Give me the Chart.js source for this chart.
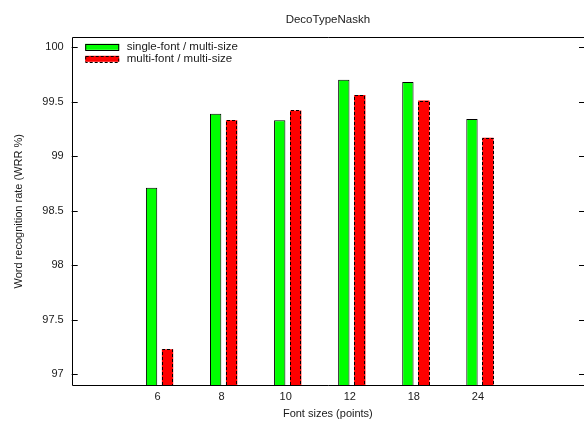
<!DOCTYPE html>
<html>
<head>
<meta charset="utf-8">
<script src="https://cdn.jsdelivr.net/npm/chart.js@4.4.1/dist/chart.umd.min.js"></script>
<style>
html,body{margin:0;padding:0;background:#fff;}
#wrap{width:584px;height:421px;}
</style>
</head>
<body>
<div id="wrap"><canvas id="c" width="584" height="421"></canvas></div>
<script>
// ---- data ----
const categories = ['6', '8', '10', '12', '18', '24'];
const singleFont = [98.71, 99.39, 99.33, 99.70, 99.68, 99.34];
const multiFont  = [97.23, 99.33, 99.42, 99.56, 99.51, 99.17];
const seriesNames = ['single-font / multi-size', 'multi-font / multi-size'];
const yTickValues = [97, 97.5, 98, 98.5, 99, 99.5, 100];

const FONT = 'Liberation Sans, Arial, Helvetica, sans-serif';
const TXT = '#1a1a1a';

const toPoints = arr => arr.map((v, i) => ({x: i, y: v}));

// frame, inward ticks, dashed borders, legend
const gnuplotStyle = {
  id: 'gnuplotStyle',
  afterDatasetsDraw(chart) {
    const ctx = chart.ctx;
    const a = chart.chartArea;
    const y = chart.scales.y;
    const W = chart.width;
    ctx.save();
    // dashed border for second series
    const meta = chart.getDatasetMeta(1);
    ctx.strokeStyle = '#000';
    ctx.lineWidth = 1;
    ctx.setLineDash([3, 2]);
    meta.data.forEach(el => {
      const p = el.getProps(['x', 'y', 'base', 'width'], true);
      const l = Math.round(p.x - p.width / 2) + 0.5;
      const r = Math.round(p.x + p.width / 2) - 0.5;
      const t = Math.round(p.y) + 0.5;
      const b = Math.min(Math.round(p.base), Math.round(a.bottom));
      ctx.beginPath();
      ctx.moveTo(l, b); ctx.lineTo(l, t); ctx.lineTo(r, t); ctx.lineTo(r, b);
      ctx.stroke();
    });
    ctx.setLineDash([]);
    // frame: top, left, bottom (right edge lies beyond the picture)
    ctx.strokeStyle = '#000';
    ctx.lineWidth = 1;
    const L = Math.round(a.left) + 0.5, T = Math.round(a.top) + 0.5, B = Math.round(a.bottom) + 0.5;
    ctx.beginPath();
    ctx.moveTo(W, T); ctx.lineTo(L, T); ctx.lineTo(L, B); ctx.lineTo(W, B);
    ctx.stroke();
    // inward ticks on left and right
    y.ticks.forEach(t => {
      const py = Math.round(y.getPixelForValue(t.value)) + 0.5;
      ctx.beginPath();
      ctx.moveTo(a.left, py); ctx.lineTo(a.left + 6, py);
      ctx.moveTo(W, py); ctx.lineTo(W - 5, py);
      ctx.stroke();
    });
    // legend
    const ds = chart.data.datasets;
    const lx = a.left + 13.5, bw = 34, bh = 6;
    const rows = [a.top + 9.5, a.top + 21.5];
    ctx.font = '11.5px ' + FONT;
    ctx.textBaseline = 'middle';
    ctx.textAlign = 'left';
    ds.forEach((d, i) => {
      const cy = rows[i];
      ctx.fillStyle = d.backgroundColor;
      ctx.fillRect(lx, cy - bh / 2, bw, bh);
      ctx.strokeStyle = '#000';
      ctx.setLineDash(i === 1 ? [3, 2] : []);
      ctx.strokeRect(lx + 0.5, Math.round(cy - bh / 2) + 0.5, bw - 1, bh);
      ctx.setLineDash([]);
      ctx.fillStyle = TXT;
      ctx.fillText(d.label, lx + bw + 7.5, cy);
    });
    ctx.restore();
  }
};

new Chart(document.getElementById('c'), {
  type: 'bar',
  data: {
    datasets: [
      {label: seriesNames[0], data: toPoints(singleFont), backgroundColor: '#00ff00',
       borderColor: '#000', borderWidth: 1, borderSkipped: 'bottom'},
      {label: seriesNames[1], data: toPoints(multiFont), backgroundColor: '#ff0000',
       borderWidth: 0}
    ]
  },
  options: {
    responsive: false,
    animation: false,
    devicePixelRatio: 1,
    categoryPercentage: 0.498,
    barPercentage: 0.71,
    layout: {padding: {left: 0, right: -2, top: 0, bottom: 0}},
    plugins: {
      legend: {display: false},
      tooltip: {enabled: false},
      title: {
        display: true, text: 'DecoTypeNaskh', fullSize: false,
        color: TXT, font: {family: FONT, size: 11.5, weight: 'normal'},
        padding: {top: 12.5, bottom: 11}
      }
    },
    scales: {
      x: {
        type: 'linear', min: -1.371, max: 6.624, offset: false,
        afterBuildTicks: s => { s.ticks = categories.map((c, i) => ({value: i})); },
        afterFit: s => { s.height = 35.7; },
        grid: {display: false, drawTicks: false, offset: false},
        border: {display: false},
        ticks: {
          color: TXT, font: {family: FONT, size: 11}, padding: 5, labelOffset: -2,
          autoSkip: false, maxRotation: 0,
          callback: v => categories[v]
        },
        title: {display: true, text: 'Font sizes (points)', color: TXT,
                font: {family: FONT, size: 11}, padding: {top: 1.4, bottom: 0}}
      },
      y: {
        type: 'linear', min: 96.9, max: 100.09, beginAtZero: false,
        afterBuildTicks: s => { s.ticks = yTickValues.map(v => ({value: v})); },
        afterFit: s => { s.width = 71.7; },
        grid: {display: false, drawTicks: false},
        border: {display: false},
        ticks: {color: TXT, font: {family: FONT, size: 11}, padding: 8,
                callback: v => String(v)},
        title: {display: true, text: 'Word recognition rate (WRR %)', color: TXT,
                font: {family: FONT, size: 11}, padding: {top: 12, bottom: 0}}
      }
    }
  },
  plugins: [gnuplotStyle]
});
</script>
</body>
</html>
